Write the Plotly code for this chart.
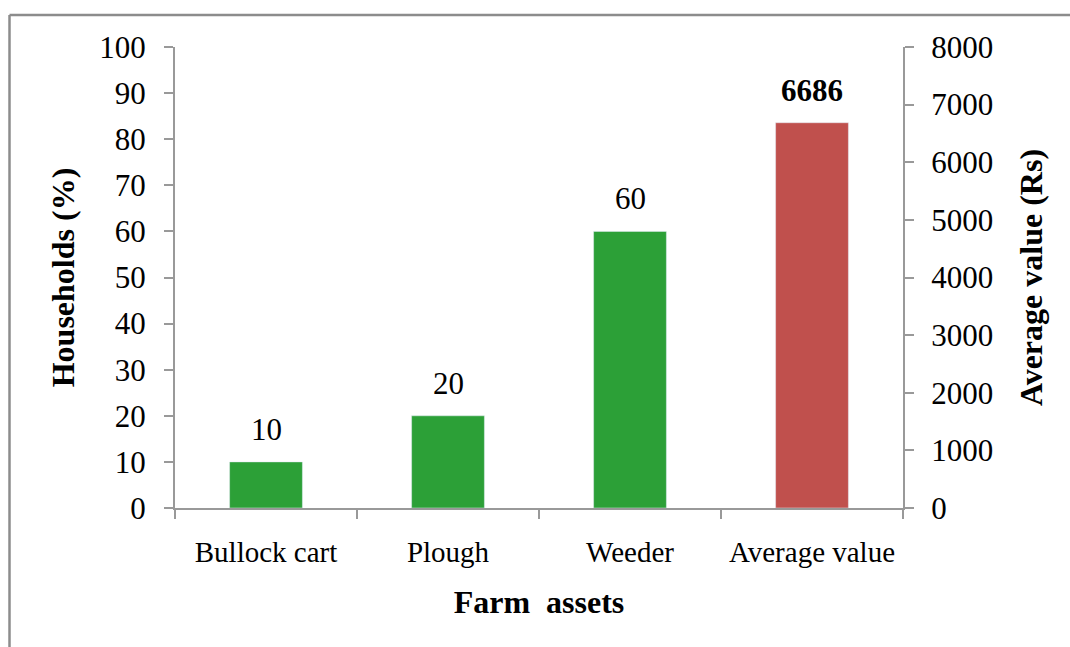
import plotly.graph_objects as go

categories = ["Bullock cart", "Plough", "Weeder", "Average value"]
households_pct = [10, 20, 60, None]
average_value = [None, None, None, 6686]
left_ticks = list(range(0, 101, 10))
right_ticks = list(range(0, 8001, 1000))

FONT = "Liberation Serif, Times New Roman, serif"
GRAY = "#999999"

fig = go.Figure()
fig.add_trace(go.Bar(
    x=categories, y=households_pct, yaxis="y",
    marker=dict(color="#2CA037"), width=0.4, showlegend=False,
))
fig.add_trace(go.Bar(
    x=categories, y=average_value, yaxis="y2",
    marker=dict(color="#C0504D"), width=0.4, showlegend=False,
))

annotations = []
for c, v in zip(categories, households_pct):
    if v is not None:
        annotations.append(dict(x=c, y=v, xref="x", yref="y", text=str(v),
                                showarrow=False, yanchor="bottom", yshift=13,
                                font=dict(family=FONT, size=31, color="black")))
for c, v in zip(categories, average_value):
    if v is not None:
        annotations.append(dict(x=c, y=v, xref="x", yref="y2", text="<b>%d</b>" % v,
                                showarrow=False, yanchor="bottom", yshift=13,
                                font=dict(family=FONT, size=31, color="black")))

L, R, T, B = 175, 167, 47, 139
PW, PH = 1070 - L - R, 647 - T - B

bx0 = (9.5 - L) / PW
by1 = 1 + (T - 15) / PH
border = dict(color="#8C8C8C", width=2.5)

fig.update_layout(
    width=1070, height=647,
    margin=dict(l=L, r=R, t=T, b=B, autoexpand=False),
    paper_bgcolor="white", plot_bgcolor="white",
    barmode="overlay", hovermode=False,
    font=dict(family=FONT, color="black"),
    annotations=annotations,
    xaxis=dict(
        type="category", showline=True, linecolor=GRAY, linewidth=2,
        ticks="outside", tickson="boundaries", ticklen=9, tickcolor=GRAY, tickwidth=2,
        tickfont=dict(size=29), ticklabelstandoff=17, automargin=False,
        title=dict(text="<b>Farm  assets</b>", font=dict(size=32), standoff=24),
        showgrid=False,
    ),
    yaxis=dict(
        range=[0, 100], tickvals=left_ticks, showline=True, linecolor=GRAY, linewidth=2,
        ticks="outside", ticklen=9, tickcolor=GRAY, tickwidth=2, automargin=False,
        tickfont=dict(size=31), ticklabelstandoff=12, showgrid=False, zeroline=False,
        title=dict(text="<b>Households (%)</b>", font=dict(size=32), standoff=15),
    ),
    yaxis2=dict(
        range=[0, 8000], tickvals=right_ticks, overlaying="y", side="right",
        showline=True, linecolor=GRAY, linewidth=2, automargin=False,
        ticks="outside", ticklen=9, tickcolor=GRAY, tickwidth=2,
        tickfont=dict(size=31), ticklabelstandoff=11, showgrid=False, zeroline=False,
        title=dict(text="<b>Average value (Rs)</b>", font=dict(size=32), standoff=27),
    ),
    shapes=[
        dict(type="line", xref="paper", yref="paper",
             x0=bx0, x1=(1100 - L) / PW, y0=by1, y1=by1, line=border, layer="below"),
        dict(type="line", xref="paper", yref="paper",
             x0=bx0, x1=bx0, y0=by1, y1=-(700 - (T + PH)) / PH, line=border, layer="below"),
    ],
)

fig.write_html(
    "out.html",
    config={"displayModeBar": False},
    post_script=("document.documentElement.style.overflow='hidden';"
                 "document.body.style.margin='0';document.body.style.overflow='hidden';"),
)
